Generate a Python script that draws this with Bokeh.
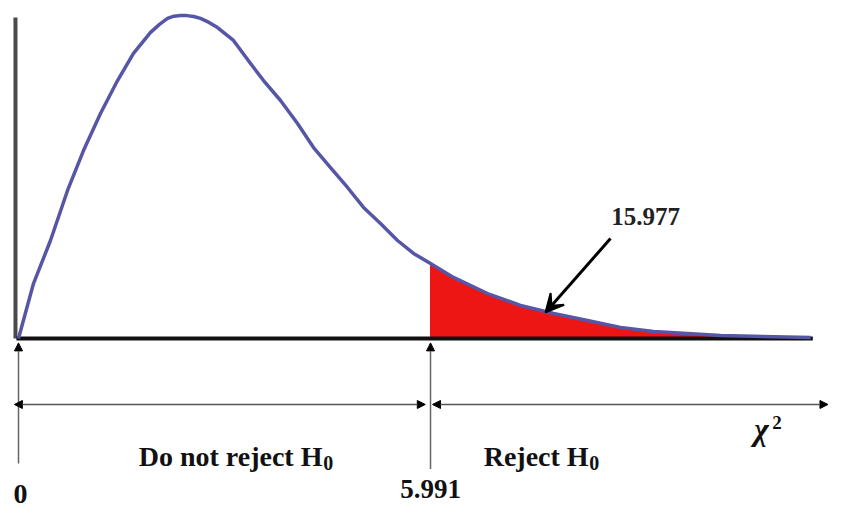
from bokeh.plotting import figure
from bokeh.models import Range1d, Arrow, NormalHead, VeeHead
from bokeh.core.properties import value
from bokeh.embed import file_html
from bokeh.resources import INLINE

# ---- data ----
curve_x = [0.0, 0.218, 0.465, 0.713, 0.945, 1.192, 1.44, 1.672, 1.92, 2.05, 2.167, 2.26, 2.356,
           2.45, 2.546, 2.646, 2.77, 2.894, 3.126, 3.374, 3.563, 3.81, 4.057, 4.29, 4.537, 4.784,
           5.017, 5.264, 5.511, 5.744, 5.991, 6.325, 6.82, 7.3, 7.78, 8.274, 8.754, 9.234,
           9.728, 10.21, 11.52]
curve_y = [0.0, 0.0314, 0.056, 0.0846, 0.1074, 0.1286, 0.1474, 0.1629, 0.1749, 0.1795, 0.1829,
           0.1842, 0.1846, 0.1845, 0.1840, 0.1829, 0.1806, 0.1777, 0.1703, 0.1571, 0.1474, 0.136,
           0.1229, 0.1091, 0.0977, 0.0863, 0.0749, 0.0657, 0.056, 0.0486, 0.0429, 0.0349, 0.0257,
           0.0189, 0.0143, 0.0103, 0.0063, 0.004, 0.0029, 0.0017, 0.0006]
critical_value = 5.991
critical_label = "5.991"
zero_label = "0"
statistic_label = "15.977"
statistic_pos = (7.663, 0.0149)      # where the arrow points on the curve
region_labels = ["Do not reject H", "Reject H"]
subscript = "0"
axis_symbol = "χ"
axis_power = "2"

SERIF = value("Liberation Serif")
INK = "#111111"
DY = 0.0063   # text baseline correction

p = figure(width=830, height=508, output_backend="svg", toolbar_location=None,
           x_range=Range1d(-0.2617, 11.807), y_range=Range1d(-0.09714, 0.19314),
           min_border=0)
p.axis.visible = False
p.grid.visible = False
p.outline_line_color = None
p.background_fill_color = "white"

# red rejection region
tail_x = [x for x in curve_x if x >= critical_value]
tail_y = [y for x, y in zip(curve_x, curve_y) if x >= critical_value]
p.varea(x=tail_x, y1=[0] * len(tail_x), y2=tail_y, fill_color="#ee1515")
p.segment(x0=[critical_value], y0=[0], x1=[critical_value], y1=[tail_y[0]],
          line_color="#ee1515", line_width=1)

# vertical axis line and baseline
p.segment(x0=[-0.044], y0=[0], x1=[-0.044], y1=[0.1834], line_color="#4a4a4a", line_width=4)
p.segment(x0=[-0.03], y0=[0], x1=[11.55], y1=[0], line_color=INK, line_width=4)

# the curve
p.line(curve_x, curve_y, line_color="#5656a6", line_width=3.5, line_join="round")

# arrow to the statistic
p.add_layout(Arrow(x_start=8.608, y_start=0.0571, x_end=statistic_pos[0], y_end=statistic_pos[1],
                   line_color="black", line_width=3,
                   end=VeeHead(size=18, fill_color="black", line_color="black", line_width=2)))
p.text(x=[9.117], y=[0.0634 + DY], text=[statistic_label], text_font=SERIF,
       text_font_style="bold", text_font_size="25px", text_align="center",
       text_baseline="alphabetic", text_color="#222222")

# vertical pointer lines under the axis
for xv, ybot in [(0.0, -0.0714), (critical_value, -0.0745)]:
    p.add_layout(Arrow(x_start=xv, y_start=ybot, x_end=xv, y_end=-0.0025,
                       line_color="#666666", line_width=1.5,
                       end=NormalHead(size=8, fill_color="black", line_color="black")))

# horizontal region arrows
ya = -0.0377
head = dict(size=8, fill_color="black", line_color="black")
p.add_layout(Arrow(x_start=-0.06, y_start=ya, x_end=5.915, y_end=ya,
                   line_color="#555555", line_width=1.5,
                   start=NormalHead(**head), end=NormalHead(**head)))
p.add_layout(Arrow(x_start=6.02, y_start=ya, x_end=11.77, y_end=ya,
                   line_color="#555555", line_width=1.5,
                   start=NormalHead(**head), end=NormalHead(**head)))

# region labels with subscript 0
lab_y = -0.0737 + DY
p.text(x=[4.42, 8.29], y=[lab_y, lab_y], text=region_labels, text_font=SERIF,
       text_font_style="bold", text_font_size="28px", text_align="right",
       text_baseline="alphabetic", text_color=INK)
p.text(x=[4.43, 8.30], y=[lab_y - 0.0037, lab_y - 0.0037], text=[subscript, subscript],
       text_font=SERIF, text_font_style="bold", text_font_size="20px", text_align="left",
       text_baseline="alphabetic", text_color=INK)

# chi-square label
p.text(x=[10.70], y=[-0.0583 + DY], text=[axis_symbol], text_font=SERIF,
       text_font_style="bold italic", text_font_size="31px", text_align="left",
       text_baseline="alphabetic", text_color=INK)
p.text(x=[10.96], y=[-0.0543 + DY], text=[axis_power], text_font=SERIF, text_font_style="bold",
       text_font_size="19px", text_align="left", text_baseline="alphabetic", text_color=INK)

# tick labels under pointers
p.text(x=[0.03], y=[-0.0891], text=[zero_label], text_font=SERIF, text_font_style="bold",
       text_font_size="28px", text_align="center", text_baseline="alphabetic", text_color=INK)
p.text(x=[critical_value], y=[-0.0862], text=[critical_label], text_font=SERIF,
       text_font_style="bold", text_font_size="27px", text_align="center",
       text_baseline="alphabetic", text_color=INK)

open("out.html", "w").write(file_html(p, INLINE))
